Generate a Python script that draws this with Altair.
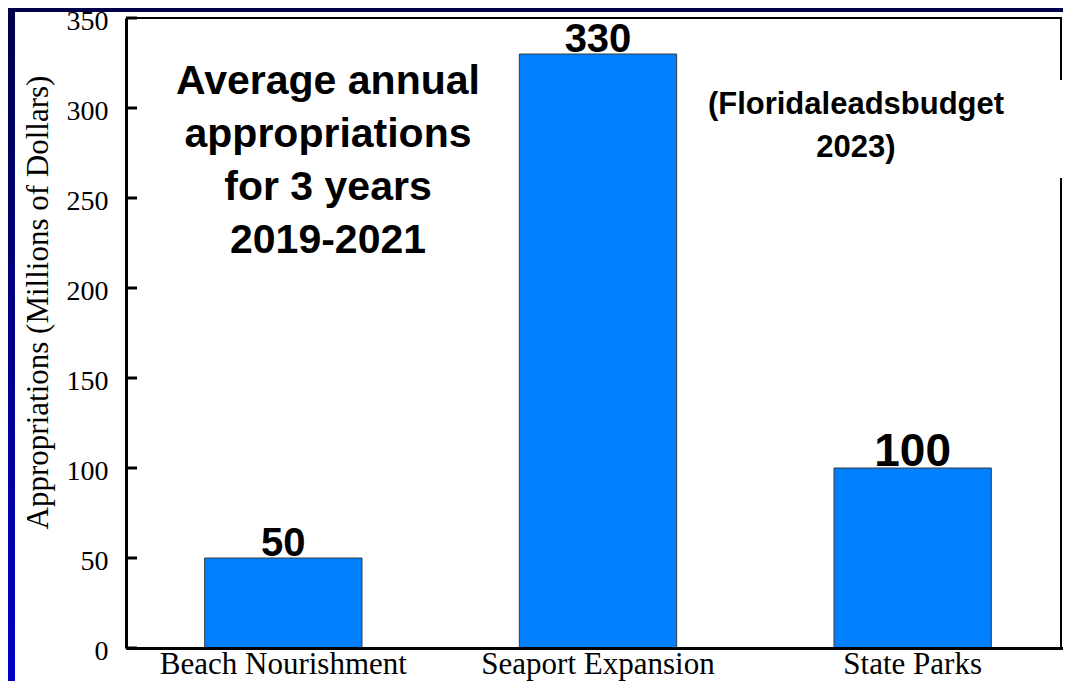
import altair as alt
import pandas as pd

# ---- data ----
categories = ["Beach Nourishment", "Seaport Expansion", "State Parks"]
values = [50, 330, 100]
y_ticks = [0, 50, 100, 150, 200, 250, 300, 350]
y_title = "Appropriations (Millions of Dollars)"
note_main = ["Average annual", "appropriations", "for 3 years", "2019-2021"]
note_source = ["(Floridaleadsbudget", "2023)"]

df = pd.DataFrame({"category": categories, "value": values})
ticks_df = pd.DataFrame({"tick": y_ticks})

W, H = 936, 630
one = alt.Data(values=[{}])

serif = "Liberation Serif"
sans = "Liberation Sans"

x_enc = alt.X(
    "category:N",
    sort=categories,
    scale=alt.Scale(paddingInner=0.5, paddingOuter=0.25, range=[0, 944]),
    axis=alt.Axis(
        title=None, labelAngle=0, ticks=False, domainWidth=3, domainColor="black",
        labelFont=serif, labelFontSize=31, labelColor="black", labelPadding=1,
        labelLimit=0, zindex=1,
    ),
)
y_enc = alt.Y(
    "value:Q",
    scale=alt.Scale(domain=[0, 350], nice=False),
    axis=alt.Axis(
        values=y_ticks, grid=False, ticks=False, domainWidth=3, domainColor="black",
        labelFont=serif, labelFontSize=28, labelColor="black", labelPadding=18,
        labelFlush=False, labelOffset=3,
        title=y_title, titleFont=serif, titleFontSize=31, titleFontWeight="normal",
        titleColor="black", titleAngle=270, titleX=-79, titleY=284,
        titleBaseline="alphabetic", titleAlign="center", zindex=1,
    ),
)

# slide background strips (decoration)
grad = alt.Gradient(
    gradient="linear",
    stops=[alt.GradientStop(color="#00004a", offset=0),
           alt.GradientStop(color="#0000c8", offset=1)],
    x1=0, x2=0, y1=0, y2=1,
)
left_strip = alt.Chart(one).mark_rect(color=grad).encode(
    x=alt.value(-118), x2=alt.value(-111), y=alt.value(-10), y2=alt.value(670))
top_strip = alt.Chart(one).mark_rect(color="#00004a").encode(
    x=alt.value(-118), x2=alt.value(940), y=alt.value(-10), y2=alt.value(-6))

# frame (top and right)
top_rule = alt.Chart(one).mark_rule(color="black", strokeWidth=2).encode(
    x=alt.value(0), x2=alt.value(936), y=alt.value(0))
right_rule = alt.Chart(one).mark_rule(color="black", strokeWidth=2).encode(
    x=alt.value(935), y=alt.value(0), y2=alt.value(630))

# inward ticks
tick_rules = alt.Chart(ticks_df).mark_rule(color="black", strokeWidth=3).encode(
    y=alt.Y("tick:Q", scale=alt.Scale(domain=[0, 350], nice=False)),
    x=alt.value(0), x2=alt.value(11))

bars = alt.Chart(df).mark_bar(color="#0080ff", stroke="#3a3a3a", strokeWidth=1).encode(
    x=x_enc, y=y_enc)

labels = alt.Chart(df).mark_text(
    font=sans, fontWeight="bold", color="black", baseline="alphabetic", dy=-2
).encode(
    x=alt.X("category:N", sort=categories),
    y=alt.Y("value:Q"),
    text=alt.Text("value:Q"),
    size=alt.condition(alt.datum.category == "State Parks", alt.value(46), alt.value(40)),
)

# white box behind source note (covers the right frame)
note_box = alt.Chart(one).mark_rect(color="white").encode(
    x=alt.value(570), x2=alt.value(945), y=alt.value(62), y2=alt.value(160))

main_note = alt.Chart(one).mark_text(
    text=note_main, font=sans, fontWeight="bold", fontSize=41, color="black",
    align="center", baseline="top", lineHeight=53,
).encode(x=alt.value(202), y=alt.value(44))

source_note = alt.Chart(one).mark_text(
    text=note_source, font=sans, fontWeight="bold", fontSize=31, color="black",
    align="center", baseline="top", lineHeight=43,
).encode(x=alt.value(730), y=alt.value(72))

chart = alt.layer(
    left_strip, top_strip, top_rule, right_rule, note_box, bars, tick_rules,
    labels, main_note, source_note,
).properties(
    width=W, height=H,
    autosize=alt.AutoSizeParams(type="none"),
    padding={"left": 118, "top": 10, "right": 1, "bottom": 33},
    background="white",
).configure_view(stroke=None)

chart.save("out.html", embed_options={"renderer": "svg", "actions": False})
